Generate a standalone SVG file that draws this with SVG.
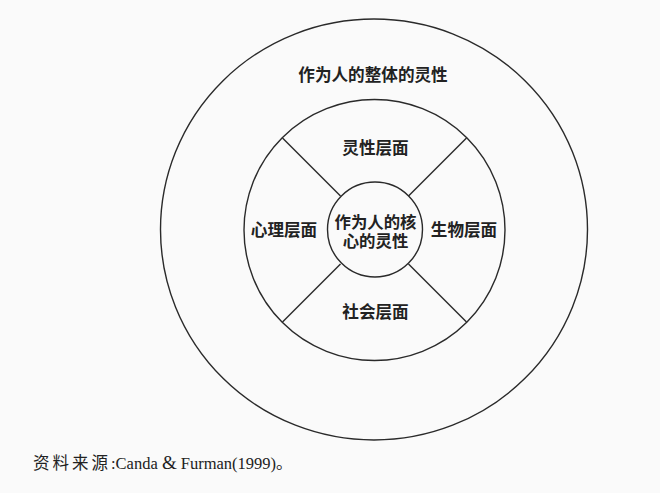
<svg xmlns="http://www.w3.org/2000/svg" width="660" height="493" viewBox="0 0 660 493">
<style>
.ln{fill:none;stroke:#2a2a2a;stroke-width:1.4}
.t{font-family:"Noto Sans CJK SC","Noto Sans",sans-serif;font-size:16.6px;font-weight:bold;fill:#222;text-anchor:middle}
.c{font-family:"Liberation Sans","Noto Sans CJK SC",sans-serif;font-size:16.4px;font-weight:bold;fill:#222;text-anchor:middle}
.cap{font-family:"Liberation Serif","Noto Sans CJK SC",serif;font-size:16.5px;fill:#222}
</style>
<rect width="660" height="493" fill="#fafafa"/>
<g id="outer">
<ellipse class="ln" cx="374" cy="229.5" rx="213.5" ry="210.5"/>
<text class="t" x="373" y="81">作为人的整体的灵性</text>
</g>
<g id="middle">
<circle class="ln" cx="374.5" cy="230" r="130.5"/>
</g>
<g id="connectors">
<line class="ln" x1="282.5" y1="138" x2="340.5" y2="196"/>
<line class="ln" x1="466.5" y1="138" x2="408.5" y2="196"/>
<line class="ln" x1="282.5" y1="322" x2="340.5" y2="264"/>
<line class="ln" x1="466.5" y1="322" x2="408.5" y2="264"/>
</g>
<g id="spiritual"><text class="t" x="375.5" y="154">灵性层面</text></g>
<g id="psych"><text class="t" x="284" y="236">心理层面</text></g>
<g id="bio"><text class="t" x="464" y="236">生物层面</text></g>
<g id="social"><text class="t" x="375.5" y="318">社会层面</text></g>
<g id="core">
<circle class="ln" cx="375" cy="229.5" r="47.5"/>
<text class="c" x="375.5" y="227.5">作为人的核</text>
<text class="c" x="375.5" y="246.5">心的灵性</text>
</g>
<g id="caption">
<text class="cap" x="33" y="469"><tspan letter-spacing="3">资料来源</tspan>:Canda <tspan font-size="19">&amp;</tspan> Furman(1999)。</text>
</g>
</svg>
